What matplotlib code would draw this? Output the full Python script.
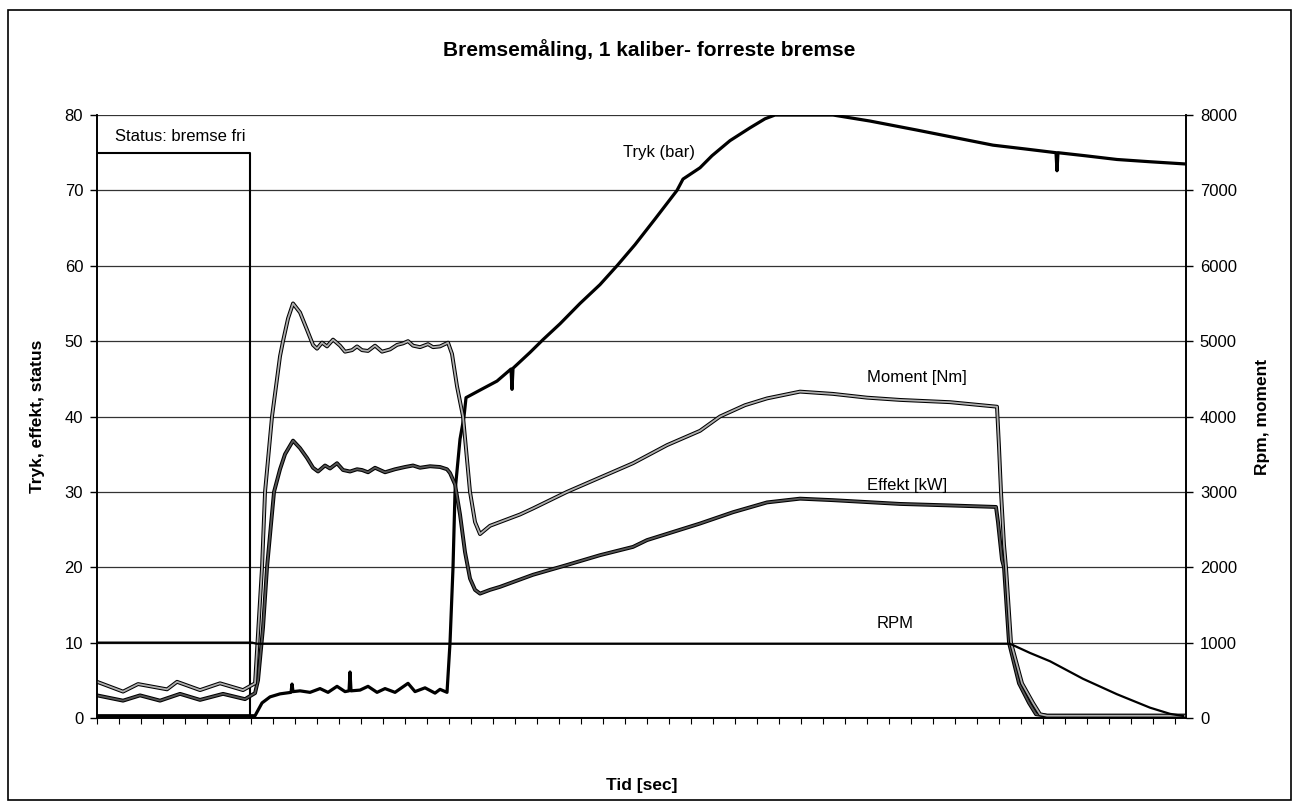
import numpy as np
import matplotlib
matplotlib.use('Agg')
import matplotlib.pyplot as plt
import matplotlib.patheffects as pe
from matplotlib.patches import Rectangle

plt.rcParams['font.family'] = ['Liberation Sans', 'DejaVu Sans']

# tid (vilkaarlig skala, ingen tal paa aksen)
status_t = [0, 15.3, 15.3, 108.9]
status_v = [75, 75, 0, 0]

tryk_t = [0, 5.3, 10.3, 15.8, 16.5, 17.3, 18.3, 19.4, 19.5, 19.6, 20.3, 21.3, 22.3, 23.1,
          24.0, 24.8, 25.2, 25.3, 25.4, 26.3, 27.1, 28.0, 28.8, 29.8, 31.1, 31.8, 32.8,
          33.8, 34.3, 35.0, 35.3, 35.6, 35.8, 36.3, 36.7, 36.9, 38.3, 40.0, 41.4, 41.5,
          41.6, 43.3, 44.6, 46.3, 48.3, 50.3, 52.0, 53.8, 55.8, 58.0, 58.6, 60.3, 61.5,
          63.3, 65.3, 66.8, 67.8, 73.6, 77.3, 82.0, 85.8, 89.6, 92.8, 95.9, 96.0, 96.1,
          98.8, 102.0, 105.3, 108.9]
tryk_v = [0.3, 0.3, 0.3, 0.3, 2.0, 2.8, 3.2, 3.4, 4.5, 3.5, 3.6, 3.4, 3.9, 3.4,
          4.2, 3.5, 3.6, 6.1, 3.6, 3.7, 4.2, 3.4, 3.9, 3.4, 4.6, 3.5, 4.0,
          3.3, 3.8, 3.4, 10, 20, 30, 37, 40, 42.5, 43.5, 44.7, 46.3, 43.6,
          46.4, 48.5, 50.2, 52.3, 55.0, 57.5, 60.0, 62.8, 66.2, 70.0, 71.5, 73.0, 74.6,
          76.6, 78.3, 79.5, 80.0, 80.0, 79.2, 78.0, 77.0, 76.0, 75.5, 75.0, 72.6, 75.0,
          74.6, 74.1, 73.8, 73.5]

effekt_t = [0, 2.6, 4.3, 6.3, 8.3, 10.3, 12.6, 14.8, 15.8, 16.1, 16.6, 17.0, 17.7, 18.3,
            18.8, 19.6, 20.3, 21.0, 21.6, 22.1, 22.8, 23.3, 24.0, 24.6, 25.3, 26.0, 26.5,
            27.1, 27.8, 28.8, 29.8, 30.8, 31.6, 32.3, 33.3, 34.3, 35.0, 35.3, 35.8, 36.3,
            36.8, 37.3, 37.8, 38.3, 39.3, 40.3, 43.6, 47.0, 50.3, 53.6, 55.0, 60.3, 63.6,
            67.0, 70.3, 73.6, 80.3, 85.3, 89.9, 90.1, 90.5, 90.7, 91.2, 92.2, 93.2, 93.9,
            95.0, 108.9]
effekt_v = [3.0, 2.3, 3.0, 2.3, 3.2, 2.4, 3.2, 2.5, 3.3, 5, 12, 20, 30, 33,
            35, 36.8, 35.8, 34.5, 33.2, 32.7, 33.5, 33.1, 33.8, 32.9, 32.7, 33.0, 32.9,
            32.6, 33.2, 32.6, 33.0, 33.3, 33.5, 33.2, 33.4, 33.3, 33.0, 32.5, 31.0, 27,
            22, 18.5, 17.0, 16.5, 17.0, 17.4, 19.0, 20.3, 21.6, 22.7, 23.6, 25.8, 27.3,
            28.6, 29.1, 28.9, 28.4, 28.2, 28.0, 26, 21, 20, 10, 4.6, 2.0, 0.5,
            0.3, 0.3]

moment_t = [0, 2.6, 4.1, 7.0, 8.0, 10.3, 12.3, 14.6, 15.8, 16.5, 16.8, 17.5, 18.0, 18.3,
            18.6, 19.1, 19.6, 20.3, 21.0, 21.6, 22.0, 22.5, 23.0, 23.6, 24.3, 24.8, 25.5,
            26.0, 26.5, 27.1, 27.8, 28.5, 29.3, 30.0, 30.6, 31.1, 31.6, 32.3, 33.1, 33.6,
            34.3, 35.1, 35.5, 36.0, 36.6, 37.3, 37.8, 38.3, 39.3, 40.3, 42.3, 43.6, 47.0,
            50.3, 53.6, 57.0, 60.3, 62.3, 64.8, 67.0, 70.3, 73.6, 77.0, 80.3, 85.3, 90.0,
            90.2, 90.4, 90.7, 90.9, 91.4, 92.5, 93.6, 94.3, 95.0, 108.9]
moment_v = [480, 350, 450, 380, 480, 370, 460, 370, 460, 2000, 3000, 4000, 4500, 4800,
            5000, 5300, 5500, 5380, 5150, 4950, 4900, 4980, 4930, 5020, 4940, 4860, 4880,
            4930, 4880, 4870, 4940, 4860, 4890, 4950, 4970, 5000, 4940, 4920, 4960, 4920,
            4930, 4980, 4830, 4400, 4000, 3000, 2600, 2440, 2550, 2600, 2700, 2780, 3000,
            3190, 3380, 3620, 3810, 4000, 4150, 4240, 4330, 4300, 4250, 4220, 4190, 4130,
            3600, 3000, 2300, 2000, 1000, 460, 200, 50, 30, 30]

rpm_t = [0, 15.5, 16.0, 91.3, 93.3, 95.3, 98.6, 102.0, 105.3, 107.3, 108.6]
rpm_v = [1000, 1000, 985, 985, 863, 753, 520, 315, 137, 55, 27]

fig = plt.figure(figsize=(12.99, 8.06), dpi=100)
ax = fig.add_axes([0.0747, 0.1092, 0.8383, 0.7481])
ax2 = ax.twinx()

ax.set_xlim(0, 108.9)
ax.set_ylim(0, 80)
ax2.set_ylim(0, 8000)
ax.set_yticks(np.arange(0, 81, 10))
ax2.set_yticks(np.arange(0, 8001, 1000))
ax.set_xticks(np.arange(0, 109, 2.2))
ax.set_xticklabels([])
ax.grid(axis='y', color='#333333', linewidth=0.9)
ax.set_axisbelow(True)

for a in (ax, ax2):
    a.spines['top'].set_visible(False)
    for s in ('left', 'right', 'bottom'):
        a.spines[s].set_linewidth(1.2)
ax.tick_params(axis='y', direction='out', length=5, width=1, pad=5, labelsize=12)
ax2.tick_params(axis='y', direction='out', length=5, width=1, pad=5, labelsize=12)
ax.tick_params(axis='x', direction='out', length=4, width=0.8)

ax.plot(status_t, status_v, color='black', linewidth=1.5)
ax.plot(tryk_t, tryk_v, color='black', linewidth=2.3)
ax.plot(effekt_t, effekt_v, color='#555555', linewidth=1.3,
        path_effects=[pe.Stroke(linewidth=2.8, foreground='black'), pe.Normal()])
ax2.plot(moment_t, moment_v, color='#b0b0b0', linewidth=1.3,
         path_effects=[pe.Stroke(linewidth=2.8, foreground='black'), pe.Normal()])
ax2.plot(rpm_t, rpm_v, color='black', linewidth=1.6)

ax.text(1.8, 77.1, 'Status: bremse fri', fontsize=12, va='center')
ax.text(52.6, 75.0, 'Tryk (bar)', fontsize=12, va='center')
ax.text(77.0, 45.2, 'Moment [Nm]', fontsize=12, va='center')
ax.text(77.0, 30.9, 'Effekt [kW]', fontsize=12, va='center')
ax.text(78.0, 12.6, 'RPM', fontsize=12, va='center')

ax.set_ylabel('Tryk, effekt, status', fontsize=12.5, fontweight='bold')
ax.yaxis.set_label_coords(-0.048, 0.5)
ax2.set_ylabel('Rpm, moment', fontsize=12.5, fontweight='bold')
ax2.yaxis.set_label_coords(1.063, 0.5)
ax.set_xlabel('Tid [sec]', fontsize=12.5, fontweight='bold')
ax.xaxis.set_label_coords(0.5, -0.10)

fig.text(0.5, 0.938, 'Bremsemåling, 1 kaliber- forreste bremse', fontsize=15,
         fontweight='bold', ha='center', va='center')

fig.patches.append(Rectangle((0.006, 0.0074), 0.988, 0.980, transform=fig.transFigure,
                             fill=False, edgecolor='black', linewidth=1.2))

fig.savefig('out.png', dpi=100)
